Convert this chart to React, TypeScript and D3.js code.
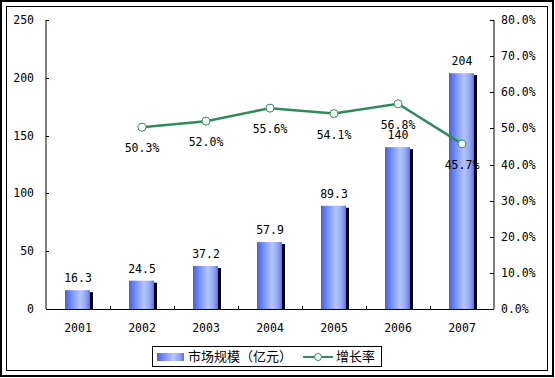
import React from "react";
import * as d3 from "d3";

const years = ["2001", "2002", "2003", "2004", "2005", "2006", "2007"];
const marketSize = [16.3, 24.5, 37.2, 57.9, 89.3, 140, 204];
const marketLabels = ["16.3", "24.5", "37.2", "57.9", "89.3", "140", "204"];
const growth: (number | null)[] = [null, 50.3, 52.0, 55.6, 54.1, 56.8, 45.7];
const leftTicks = [0, 50, 100, 150, 200, 250];
const rightTicks = [0, 10, 20, 30, 40, 50, 60, 70, 80];
const seriesNames = ["市场规模（亿元）", "增长率"];

const W = 555, H = 378;
const plotL = 46, plotR = 494, plotT = 20, plotB = 309;
const font = "'DejaVu Sans Mono', monospace";
const cjk = "'Noto Sans CJK SC', sans-serif";
const green = "#2e8b5a";

export default function App() {
  const x = d3.scaleBand<string>().domain(years).range([plotL, plotR]).paddingInner(0).paddingOuter(0);
  const yL = d3.scaleLinear().domain([0, 250]).range([plotB, plotT]);
  const yR = d3.scaleLinear().domain([0, 80]).range([plotB, plotT]);
  const bw = 25;
  const pts = growth
    .map((g, i) => (g == null ? null : ([x(years[i])! + x.bandwidth() / 2, yR(g)] as [number, number])))
    .filter((p): p is [number, number] => p !== null);
  const line = d3.line<[number, number]>()(pts) || "";

  return (
    <svg width={W} height={H} style={{ position: "absolute", left: 0, top: 0 }}>
      <defs>
        <linearGradient id="barg" x1="0" x2="1" y1="0" y2="0">
          <stop offset="0" stopColor="#3f5ff2" />
          <stop offset="0.2" stopColor="#6a86f8" />
          <stop offset="0.6" stopColor="#b7c4fc" />
          <stop offset="0.85" stopColor="#8ea3f8" />
          <stop offset="1" stopColor="#5370f0" />
        </linearGradient>
      </defs>
      <rect x={0} y={0} width={W} height={H} fill="#fff" />
      <rect x={1} y={1} width={W - 3} height={H - 3} fill="none" stroke="#000" strokeWidth={2} />
      <rect x={6.5} y={6.5} width={W - 14} height={H - 14} fill="none" stroke="#000" strokeWidth={1} />

      {/* bars */}
      {marketSize.map((v, i) => {
        const cx = x(years[i])! + x.bandwidth() / 2;
        const bx = cx - bw / 2 - 0.5;
        const top = yL(v);
        return (
          <g key={i}>
            <rect x={bx + 3} y={top + 2} width={bw} height={plotB - top - 2} fill="#000" />
            <rect x={bx} y={top} width={bw} height={plotB - top} fill="url(#barg)" />
            <text x={cx} y={top - 8} textAnchor="middle" fontFamily={font} fontSize={11.5} fill="#000">
              {marketLabels[i]}
            </text>
          </g>
        );
      })}

      {/* axes */}
      <line x1={plotL} x2={plotL} y1={plotT} y2={plotB} stroke="#000" />
      <line x1={plotR} x2={plotR} y1={plotT} y2={plotB} stroke="#000" />
      <line x1={plotL} x2={plotR} y1={plotB + 0.5} y2={plotB + 0.5} stroke="#000" />
      {leftTicks.map((t) => (
        <g key={"l" + t}>
          <line x1={plotL} x2={plotL + 3} y1={Math.round(yL(t)) + 0.5} y2={Math.round(yL(t)) + 0.5} stroke="#000" />
          <text x={plotL - 12} y={yL(t) + 4} textAnchor="end" fontFamily={font} fontSize={11.5}>{t}</text>
        </g>
      ))}
      {rightTicks.map((t) => (
        <g key={"r" + t}>
          <line x1={plotR - 4} x2={plotR} y1={Math.round(yR(t)) + 0.5} y2={Math.round(yR(t)) + 0.5} stroke="#000" />
          <text x={plotR + 7} y={yR(t) + 4} textAnchor="start" fontFamily={font} fontSize={11.5}>{t.toFixed(1)}%</text>
        </g>
      ))}
      {years.map((yr, i) => (
        <g key={yr}>
          {i > 0 && (
            <line x1={Math.round(x(yr)!) + 0.5} x2={Math.round(x(yr)!) + 0.5} y1={plotB - 3} y2={plotB} stroke="#000" />
          )}
          <text x={x(yr)! + x.bandwidth() / 2} y={plotB + 23} textAnchor="middle" fontFamily={font} fontSize={11.5}>{yr}</text>
        </g>
      ))}

      {/* growth line */}
      <path d={line} fill="none" stroke={green} strokeWidth={2.5} />
      {growth.map((g, i) => {
        if (g == null) return null;
        const cx = x(years[i])! + x.bandwidth() / 2;
        const cy = yR(g);
        return (
          <g key={"g" + i}>
            <circle cx={cx} cy={cy} r={4} fill="#fff" stroke={green} strokeWidth={1} />
            <text x={cx} y={cy + 25} textAnchor="middle" fontFamily={font} fontSize={11.5}>{g.toFixed(1)}%</text>
          </g>
        );
      })}

      {/* legend */}
      <rect x={152.5} y={346.5} width={229} height={20} fill="#fff" stroke="#000" />
      <rect x={157} y={353} width={27} height={8} fill="url(#barg)" />
      <text x={188} y={361} fontFamily={cjk} fontSize={13}>{seriesNames[0]}</text>
      <line x1={303} x2={333} y1={357} y2={357} stroke={green} strokeWidth={2} />
      <circle cx={318} cy={357} r={3.5} fill="#fff" stroke={green} />
      <text x={336} y={361} fontFamily={cjk} fontSize={13}>{seriesNames[1]}</text>
    </svg>
  );
}
